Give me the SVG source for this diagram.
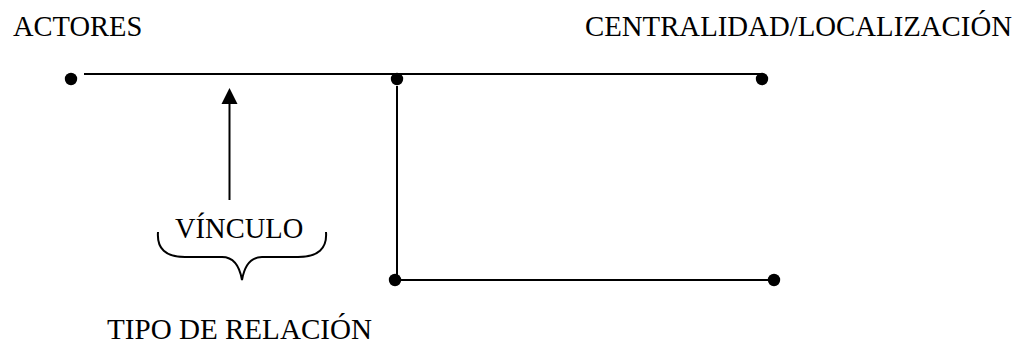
<svg xmlns="http://www.w3.org/2000/svg" width="1018" height="345" viewBox="0 0 1018 345">
<style>
text{font-family:"Liberation Serif","Times New Roman",serif;font-size:28.5px;fill:#000}
.ln{stroke:#000;stroke-width:2;fill:none}
.dot{fill:#000}
</style>
<rect width="1018" height="345" fill="#fff"/>
<g id="connectors">
<line class="ln" x1="84" y1="74" x2="762" y2="74"/>
<line class="ln" x1="397" y1="86" x2="397" y2="280"/>
<line class="ln" x1="395" y1="280" x2="774" y2="280"/>
<line class="ln" x1="229.5" y1="200" x2="229.5" y2="104"/>
<path d="M229.5,104 L221.5,104 L229.5,88 L237.5,104 Z" fill="#000"/>
</g>
<g id="node-actores"><text x="13" y="36">ACTORES</text><circle class="dot" cx="71" cy="79" r="6.2"/></g>
<g id="node-centralidad"><text x="585" y="36" textLength="427" lengthAdjust="spacingAndGlyphs">CENTRALIDAD/LOCALIZACIÓN</text><circle class="dot" cx="762" cy="79" r="6.2"/></g>
<g id="node-mid"><circle class="dot" cx="397" cy="79" r="6.2"/></g>
<g id="node-bottom-left"><circle class="dot" cx="395" cy="280" r="6.2"/></g>
<g id="node-bottom-right"><circle class="dot" cx="774" cy="280" r="6.2"/></g>
<g id="node-vinculo">
<text x="175" y="238">VÍNCULO</text>
<path class="ln" d="M158,232 Q156,257 185,257 L222,257 Q238,257 242,280 Q246,257 262,257 L298,257 Q328,257 326,232"/>
</g>
<g id="node-tipo"><text x="107" y="339" textLength="265" lengthAdjust="spacingAndGlyphs">TIPO DE RELACIÓN</text></g>
</svg>
